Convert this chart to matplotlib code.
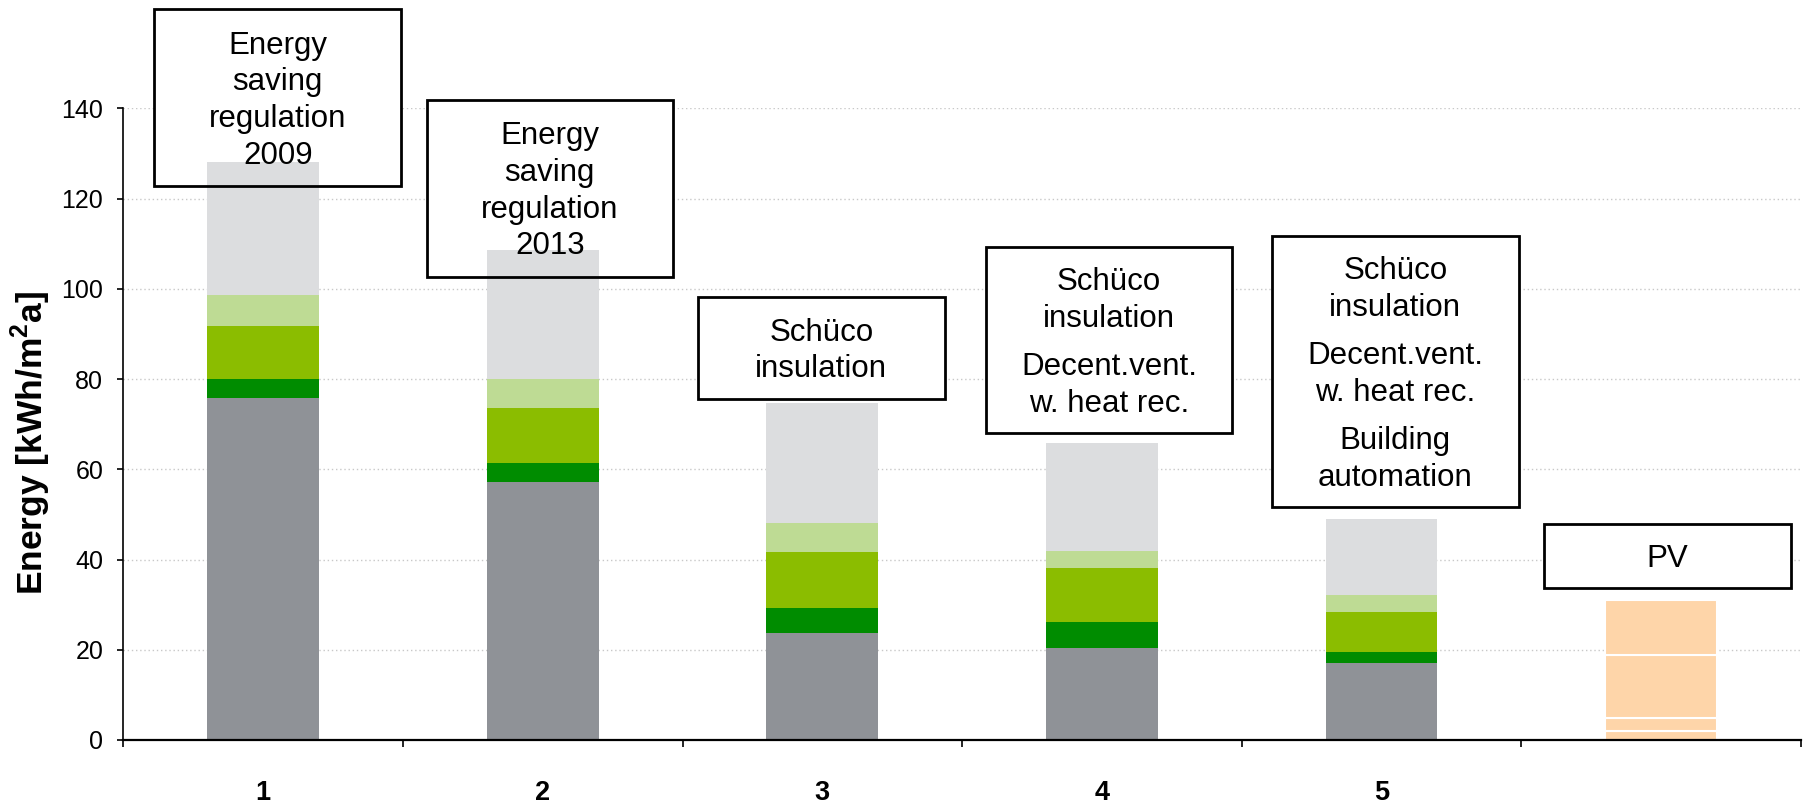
# energy_demand_scenarios.py
# Stacked energy demand per scenario with annotation boxes above each bar.

import matplotlib.pyplot as plt
from matplotlib.patches import Rectangle


# ============================================================
# 1. DATA (kWh/m2a)
# ============================================================

scenario_labels = ["1", "2", "3", "4", "5", ""]

base_gray = [75.8, 57.3, 23.8, 20.4, 17.1]
dark_green = [4.2, 4.0, 5.5, 5.8, 2.5]
mid_green = [11.8, 12.3, 12.3, 12.0, 8.8]
light_green = [6.9, 6.4, 6.4, 3.8, 3.8]
light_gray = [29.5, 28.6, 26.7, 23.8, 16.7]

pv_segments = [2.0, 2.9, 13.9, 12.3]

box_texts = [
    ["Energy\nsaving\nregulation\n2009"],
    ["Energy\nsaving\nregulation\n2013"],
    ["Schüco\ninsulation"],
    ["Schüco\ninsulation", "Decent.vent.\nw. heat rec."],
    ["Schüco\ninsulation", "Decent.vent.\nw. heat rec.", "Building\nautomation"],
    ["PV"],
]


# ============================================================
# 2. STYLE / LAYOUT
# ============================================================

plt.rcParams["font.family"] = ["Liberation Sans", "DejaVu Sans"]
plt.rcParams["mathtext.fontset"] = "custom"
plt.rcParams["mathtext.rm"] = "Liberation Sans"
plt.rcParams["mathtext.bf"] = "Liberation Sans:bold"

stack_colors = ["#8F9297", "#008C00", "#8BBD00", "#BEDB94", "#DCDDDF"]
pv_color = "#FED5A9"

# box layout: (left offset from bar centre, bottom, top) in data units
box_layout = [
    (-0.389, 122.8, 162.0),
    (-0.416, 102.7, 141.9),
    (-0.445, 75.5, 98.3),
    (-0.416, 68.0, 109.2),
    (-0.392, 51.7, 111.8),
    (-0.418, 33.8, 47.9),
]
BOX_WIDTH = 0.882
LINE_PITCH_PT = 26.4
GROUP_GAP_PT = 8.4
CAP_HALF_PT = 7.9
BAR_WIDTH = 0.4


# ============================================================
# 3. FIGURE
# ============================================================

fig = plt.figure(figsize=(18.1, 8.09), dpi=100)
ax = fig.add_axes([0.0682, 0.0853, 0.9268, 0.7806])

x = list(range(len(base_gray)))
bottom = [0.0] * len(base_gray)
for values, color in zip([base_gray, dark_green, mid_green, light_green, light_gray], stack_colors):
    ax.bar(x, values, BAR_WIDTH, bottom=bottom, color=color, zorder=2)
    bottom = [b + v for b, v in zip(bottom, values)]

pv_x = len(base_gray)
pv_bottom = 0.0
for seg in pv_segments:
    ax.bar(pv_x, seg, BAR_WIDTH, bottom=pv_bottom, color=pv_color,
           edgecolor="white", linewidth=1.5, zorder=2)
    pv_bottom += seg

# annotation boxes
for i, (groups, (left, y0, y1)) in enumerate(zip(box_texts, box_layout)):
    ax.add_patch(Rectangle((i + left, y0), BOX_WIDTH, y1 - y0, facecolor="white",
                           edgecolor="none", zorder=1, clip_on=False))
    ax.add_patch(Rectangle((i + left, y0), BOX_WIDTH, y1 - y0, facecolor="none",
                           edgecolor="black", linewidth=2.0, zorder=3, clip_on=False))

    lines = []
    for g, grp in enumerate(groups):
        for line in grp.split("\n"):
            lines.append((line, g))
    n = len(lines)
    span = (n - 1) * LINE_PITCH_PT + (len(groups) - 1) * GROUP_GAP_PT
    cx = i + left + BOX_WIDTH / 2
    cy = (y0 + y1) / 2
    offset = span / 2 - CAP_HALF_PT
    for k, (line, g) in enumerate(lines):
        y_off = offset - k * LINE_PITCH_PT - g * GROUP_GAP_PT
        ax.annotate(line, xy=(cx, cy), xytext=(0, y_off), textcoords="offset points",
                    ha="center", va="baseline", fontsize=22.5, zorder=4,
                    annotation_clip=False)

# axes
ax.set_xlim(-0.5, len(scenario_labels) - 0.5)
ax.set_ylim(0, 140)
ax.set_yticks(range(0, 141, 20))
ax.set_xticks(range(len(scenario_labels)))
ax.set_xticklabels(scenario_labels, fontsize=19.5, fontweight="bold")
ax.set_xticks([k - 0.5 for k in range(len(scenario_labels) + 1)], minor=True)
ax.tick_params(axis="x", which="major", length=0, pad=29)
ax.tick_params(axis="x", which="minor", length=5, width=1.2, direction="out")
ax.tick_params(axis="y", labelsize=18, length=4.5, width=1.2, pad=10)

ax.grid(axis="y", linestyle=(0, (1, 2)), color="#C8C8C8", linewidth=1.0, zorder=0)
ax.set_axisbelow(True)

for side in ["top", "right"]:
    ax.spines[side].set_visible(False)
ax.spines["left"].set_linewidth(1.2)
ax.spines["bottom"].set_linewidth(1.6)

ax.set_ylabel(r"Energy [kWh/m$^{\mathbf{2}}$a]", fontsize=25.5, fontweight="bold")
ax.yaxis.set_label_coords(-0.0551, 0.47)
ax.yaxis.label.set_va("center")

fig.savefig("out.png", dpi=100)
